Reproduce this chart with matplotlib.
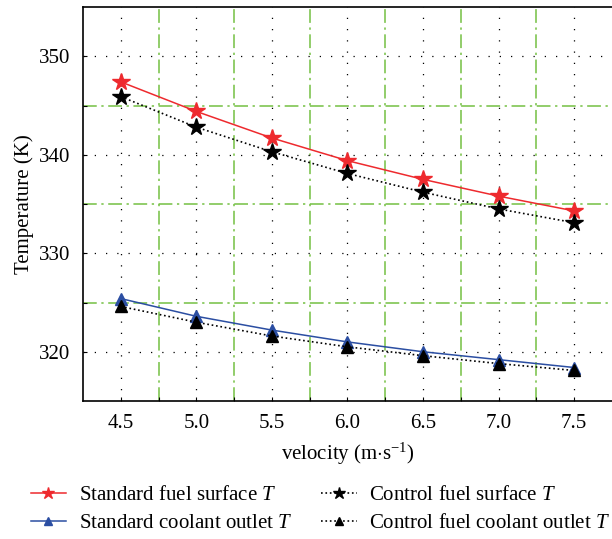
import numpy as np
import matplotlib.pyplot as plt

plt.rcParams['font.family'] = ['Liberation Serif', 'DejaVu Serif']
plt.rcParams['mathtext.fontset'] = 'custom'
plt.rcParams['mathtext.rm'] = 'Liberation Serif'
plt.rcParams['mathtext.it'] = 'Liberation Serif:italic'
plt.rcParams['font.size'] = 15

# data
velocity = [4.5, 5.0, 5.5, 6.0, 6.5, 7.0, 7.5]
std_fuel_surface = [347.4, 344.4, 341.7, 339.4, 337.5, 335.8, 334.3]
ctrl_fuel_surface = [345.9, 342.8, 340.3, 338.1, 336.2, 334.5, 333.1]
std_coolant_outlet = [325.4, 323.6, 322.2, 321.0, 320.0, 319.2, 318.4]
ctrl_coolant_outlet = [324.6, 323.0, 321.6, 320.5, 319.6, 318.8, 318.1]

labels = ['Standard fuel surface $T$', 'Control fuel surface $T$',
          'Standard coolant outlet $T$', 'Control fuel coolant outlet $T$']

fig = plt.figure(figsize=(6.12, 5.39), dpi=100)
ax = fig.add_axes([0.1356, 0.256, 0.8644, 0.731])

l1, = ax.plot(velocity, std_fuel_surface, '-', color='#ee2a2e', lw=1.1,
              marker='*', ms=13, mec='#ee2a2e', mfc='#ee2a2e')
l2, = ax.plot(velocity, ctrl_fuel_surface, ':', color='black', lw=1.2,
              marker='*', ms=13, mec='black', mfc='black')
l3, = ax.plot(velocity, std_coolant_outlet, '-', color='#2b4ea2', lw=1.1,
              marker='^', ms=8, mec='#2b4ea2', mfc='#2b4ea2')
l4, = ax.plot(velocity, ctrl_coolant_outlet, ':', color='black', lw=1.2,
              marker='^', ms=8, mec='black', mfc='black')

ax.set_xlim(4.25, 7.75)
ax.set_ylim(315, 355)
ax.set_xticks(np.arange(4.5, 7.6, 0.5))
ax.set_xticks(np.arange(4.75, 7.5, 0.5), minor=True)
ax.set_yticks([320, 330, 340, 350])
ax.set_yticks([325, 335, 345], minor=True)
ax.set_xticklabels(['4.5', '5.0', '5.5', '6.0', '6.5', '7.0', '7.5'])

ax.grid(which='major', color='black', linestyle=(0, (1, 8)), lw=0.9)
ax.grid(which='minor', color='#74c043', linestyle=(0, (9, 3, 1.5, 3)), lw=1.1)
ax.set_axisbelow(True)

ax.tick_params(which='both', direction='in', length=3, width=0.8, labelsize=15)
ax.tick_params(axis='x', pad=9)
ax.tick_params(axis='y', pad=9)
ax.spines['right'].set_visible(False)
for s in ['left', 'bottom', 'top']:
    ax.spines[s].set_linewidth(1.2)

ax.set_xlabel('velocity (m$\\cdot$s$^{-1}$)', fontsize=15, labelpad=6)
ax.set_ylabel('Temperature (K)', fontsize=15, labelpad=4)

fig.legend([l1, l3, l2, l4], [labels[0], labels[2], labels[1], labels[3]],
           ncol=2, loc='upper left',
           bbox_to_anchor=(0.05, 0.099), frameon=False, fontsize=15,
           handlelength=1.7, handletextpad=0.6, columnspacing=1.4,
           labelspacing=0.4, borderpad=0, borderaxespad=0, markerscale=0.7)

fig.savefig('out.png', dpi=100)
